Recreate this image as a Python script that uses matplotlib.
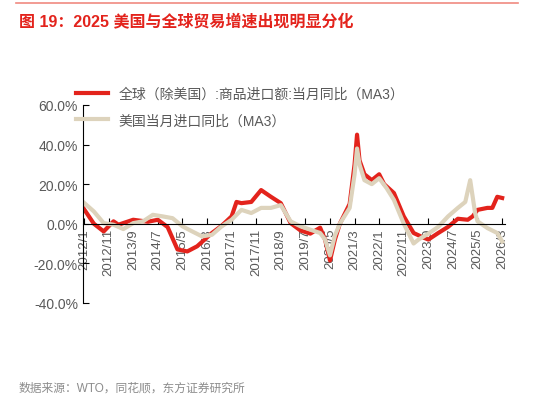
import matplotlib.pyplot as plt
from matplotlib.lines import Line2D

plt.rcParams['font.family'] = ['Liberation Sans', 'Noto Sans CJK SC', 'DejaVu Sans']

# month index from 2012/1
world_m = [0, 4, 8, 12, 14, 20, 26, 30, 34, 38, 42, 46, 52, 56, 60, 62, 64, 68, 72, 76, 80, 84,
           88, 92, 96, 98, 100, 102, 104, 108, 110, 111, 112, 114, 117, 120, 122, 126, 130, 134,
           138, 140, 144, 148, 152, 156, 158, 160, 164, 166, 168, 170]
world_v = [7.4, 0, -3.9, 1.2, -0.5, 2, 1, 2, -1.7, -13, -14, -11.4, -4.7, -1, 3.7, 11, 10.4, 11, 17,
           13.6, 10.4, 0.3, -3.4, -5, -2, -8, -18.6, -8, 0, 10, 30, 45, 32, 25, 22, 25, 20, 15.5, 3.7,
           -4.7, -7, -8, -4.7, -1.6, 2.5, 2, 3.7, 7, 8, 8, 13.6, 13]
us_m = [0, 4, 8, 12, 16, 20, 24, 28, 32, 36, 40, 44, 48, 52, 56, 60, 64, 68, 72, 76, 80, 84, 88,
        92, 96, 98, 100, 102, 104, 108, 110, 111, 112, 114, 117, 120, 123, 126, 130, 134, 136,
        140, 144, 148, 152, 155, 157, 159, 160, 164, 168, 170]
us_v = [10.6, 6.2, 0.3, -0.5, -2.7, 0.3, 1.2, 4.5, 3.7, 2.8, -1.3, -3.9, -6.4, -5.6, -1.3, 2, 7,
        5.4, 8, 8, 9.4, 1.2, -1.3, -3, -4.7, -8, -16, -6, 0, 8, 25, 38, 30, 22, 20, 23, 18, 12, 0,
        -10, -8, -5, -1.6, 3.7, 8, 11, 22, 5.4, 1.2, -2.2, -4.7, -9]
tick_m = list(range(0, 171, 10))
tick_labels = [f"{2012 + m // 12}/{m % 12 + 1}" for m in tick_m]

red = '#e3231c'
beige = '#ddd3bc'

fig = plt.figure(figsize=(5.34, 4.14), dpi=100)
fig.add_artist(Line2D([0.03, 0.97], [0.99, 0.99], color='#f08a80', lw=1.2))
fig.text(0.035, 0.945, '图 19：2025 美国与全球贸易增速出现明显分化', color=red,
         fontsize=11.5, fontweight='bold', va='center')
fig.text(0.035, 0.062, '数据来源：WTO，同花顺，东方证券研究所', color='#8c8c8c', fontsize=8.5,
         va='center')

ax = fig.add_axes([0.155, 0.266, 0.79, 0.478])
ax.plot(world_m, world_v, color=red, lw=3, label='全球（除美国）:商品进口额:当月同比（MA3）')
ax.plot(us_m, us_v, color=beige, lw=3, label='美国当月进口同比（MA3）')

ax.set_ylim(-40, 60)
ax.set_xlim(-0.5, 171)
ax.spines['bottom'].set_position(('data', 0))
ax.spines['top'].set_visible(False)
ax.spines['right'].set_visible(False)
ax.set_yticks(range(-40, 61, 20))
ax.set_yticklabels([f"{v:.1f}%" for v in range(-40, 61, 20)], color='#595959', fontsize=10)
ax.set_xticks(tick_m)
ax.set_xticklabels(tick_labels, color='#595959', fontsize=9.5)
ax.tick_params(axis='x', direction='in', length=4, pad=3, labelrotation=90)
ax.tick_params(axis='y', direction='in', length=4)
for lab in ax.get_xticklabels():
    lab.set_verticalalignment('top')

ax.legend(loc='upper left', bbox_to_anchor=(-0.03, 1.12), frameon=False, fontsize=10,
          handlelength=2.3, labelcolor='#595959', borderaxespad=0, labelspacing=0.9)

fig.savefig('out.png', dpi=100)
